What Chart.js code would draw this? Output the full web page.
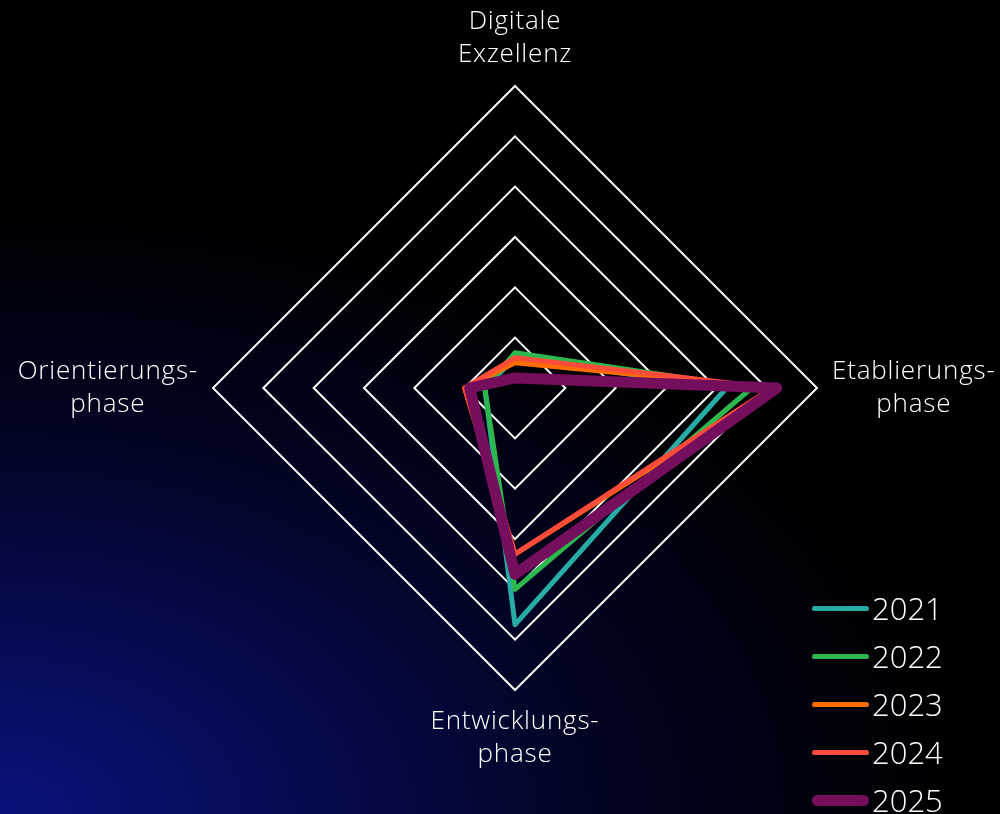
<!DOCTYPE html>
<html lang="de">
<head>
<meta charset="utf-8">
<title>Digitale Reife</title>
<script src="https://cdn.jsdelivr.net/npm/chart.js@4.4.1/dist/chart.umd.min.js"></script>
<style>
  html, body { margin: 0; padding: 0; }
  body {
    width: 1000px; height: 814px; overflow: hidden; position: relative;
    background: radial-gradient(ellipse 95% 75% at 0% 100%, #0a127a 0%, #060b52 30%, #020424 62%, #000 100%);
    font-family: "Open Sans", Lato, sans-serif;
  }
  #radar { position: absolute; left: 0; top: 0; }
  #legend { position: absolute; left: 812px; top: 584px; }
  .item { display: flex; align-items: center; height: 48px; }
  .swatch { width: 57px; border-radius: 6px; margin-right: 3px; }
  .item span { color: #fff; font-size: 31px; font-weight: 300; line-height: 1; }
</style>
</head>
<body>
<canvas id="radar" width="1000" height="814"></canvas>
<div id="legend"></div>
<script>
// Axes of the maturity model (clockwise from the top)
const axes = [
  ['Digitale', 'Exzellenz'],
  ['Etablierungs-', 'phase'],
  ['Entwicklungs-', 'phase'],
  ['Orientierungs-', 'phase']
];
const years = ['2021', '2022', '2023', '2024', '2025'];

// share of companies per phase, in percent
const v2021 = [6, 42, 47, 6];
const v2022 = [7, 47, 40, 6];
const v2023 = [5, 52, 33, 10];
const v2024 = [6, 51, 33, 10];
const v2025 = [2, 52, 37, 9];

const colors = ['#27aca6', '#2db84f', '#ff6d00', '#ff4b3a', '#750e5c'];
const widths = [5, 5, 5, 5, 11];
const values = [v2021, v2022, v2023, v2024, v2025];

// phase names around the diamond, centred lines
const axisLabels = {
  id: 'axisLabels',
  afterDraw(chart) {
    const scale = chart.scales.r;
    const ctx = chart.ctx;
    const lh = 33;
    ctx.save();
    ctx.font = '300 26px "Open Sans", Lato, sans-serif';
    ctx.letterSpacing = '0.8px';
    ctx.fillStyle = '#fff';
    ctx.textAlign = 'center';
    ctx.textBaseline = 'middle';
    chart.data.labels.forEach((lines, i) => {
      const p = scale.getPointPosition(i, scale.drawingArea + 15);
      const w = Math.max(...lines.map(l => ctx.measureText(l).width));
      const h = lines.length * lh;
      const cx = p.x + Math.cos(p.angle) * w / 2;
      const cy = p.y + Math.sin(p.angle) * h / 2;
      lines.forEach((l, j) => ctx.fillText(l, cx, cy - h / 2 + lh * (j + 0.5)));
    });
    ctx.restore();
  }
};

new Chart(document.getElementById('radar'), {
  type: 'radar',
  data: {
    labels: axes,
    datasets: years.map((y, i) => ({
      label: y,
      data: values[i],
      borderColor: colors[i],
      backgroundColor: 'transparent',
      borderWidth: widths[i],
      borderJoinStyle: 'round',
      borderCapStyle: 'round',
      fill: false,
      pointRadius: 0,
      pointHoverRadius: 0,
      order: years.length - i
    }))
  },
  options: {
    responsive: false,
    animation: false,
    layout: { padding: { left: 213, right: 183, top: 86, bottom: 124 } },
    plugins: { legend: { display: false }, tooltip: { enabled: false } },
    scales: {
      r: {
        min: 0,
        max: 60,
        ticks: { display: false, stepSize: 10 },
        angleLines: { display: false },
        grid: { color: '#ffffff', lineWidth: 2 },
        pointLabels: { display: false }
      }
    }
  },
  plugins: [axisLabels]
});

// legend column
const legend = document.getElementById('legend');
years.forEach((y, i) => {
  const item = document.createElement('div');
  item.className = 'item';
  item.innerHTML = `<div class="swatch" style="height:${widths[i]}px;background:${colors[i]}"></div><span>${y}</span>`;
  legend.appendChild(item);
});
</script>
</body>
</html>
